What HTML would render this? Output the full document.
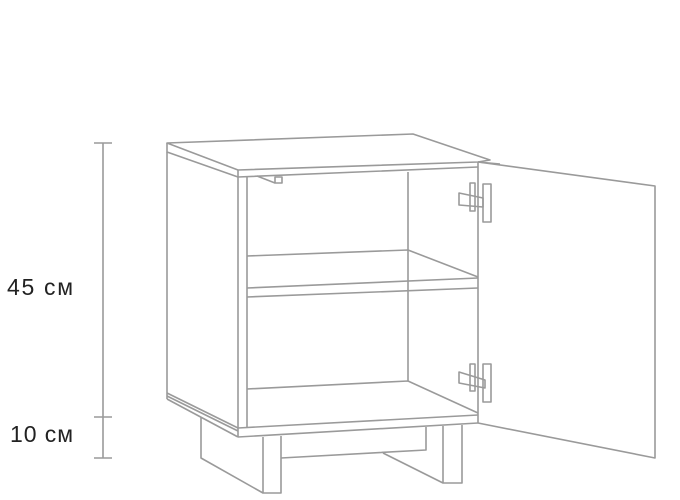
<!DOCTYPE html>
<html><head><style>body{margin:0;background:#fff}svg{display:block}</style></head><body>
<svg width="680" height="500" viewBox="0 0 680 500" xmlns="http://www.w3.org/2000/svg">
<g fill="none" stroke="#9a9a9a" stroke-width="1.6" stroke-linejoin="round">
<line x1="103" y1="143" x2="103" y2="458"/>
<line x1="94" y1="143" x2="112" y2="143"/>
<line x1="94" y1="417" x2="112" y2="417"/>
<line x1="94" y1="458" x2="112" y2="458"/>
<polygon points="167,143 413,134 490,160 478,162 238,170"/>
<polyline points="167,143 167,152 238,177 478,167"/>
<line x1="238" y1="170" x2="238" y2="177"/>
<line x1="478" y1="162" x2="500" y2="164"/>
<line x1="167" y1="152" x2="167" y2="399"/>
<polyline points="238,177 238,437"/>
<line x1="247" y1="177" x2="247" y2="428"/>
<line x1="408" y1="172" x2="408" y2="381"/>
<line x1="478" y1="162" x2="478" y2="423"/>
<polyline points="247,256 408,250 478,277"/>
<line x1="247" y1="288" x2="478" y2="278"/>
<line x1="247" y1="297" x2="478" y2="288"/>
<polyline points="247,389 408,381 478,413"/>
<line x1="238" y1="428" x2="478" y2="415"/>
<line x1="238" y1="437" x2="478" y2="423"/>
<line x1="167" y1="393" x2="238" y2="428"/>
<line x1="167" y1="396" x2="238" y2="431"/>
<line x1="167" y1="399" x2="238" y2="437"/>
<line x1="257" y1="176" x2="275" y2="183"/>
<rect x="275" y="177" width="7" height="6"/>
<polyline points="201,417 201,458 263,493"/>
<polyline points="263,437 263,493 281,493 281,436"/>
<polyline points="281,458 426,450 426,427"/>
<polyline points="383,453 443,483 462,483 462,425"/>
<line x1="443" y1="426" x2="443" y2="483"/>
<polyline points="478,162 655,186 655,458 478,423"/>
<rect x="470" y="183" width="5" height="28"/>
<rect x="483" y="184" width="8" height="38"/>
<polygon points="459,193 483,198 483,207 459,205"/>
<rect x="470" y="364" width="5" height="27"/>
<rect x="483" y="364" width="8" height="38"/>
<polygon points="459,372 485,380 485,388 459,383"/>
</g>
<g font-family="Liberation Sans, sans-serif" font-size="23" fill="#222" letter-spacing="1">
<text x="7" y="295" textLength="67">45 см</text>
<text x="10" y="442" textLength="64">10 см</text>
</g>
</svg>
</body></html>
